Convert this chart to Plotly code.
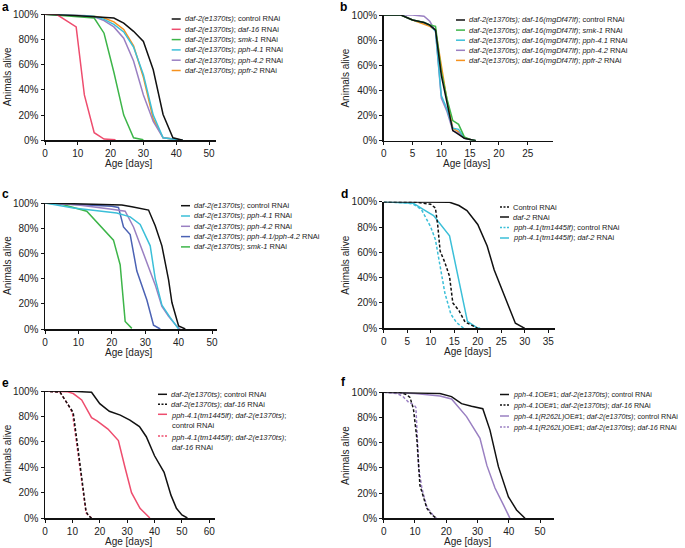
import plotly.graph_objects as go

# ---------------- DATA ----------------
BLACK = "#111111"; RED = "#EE4D6E"; GREEN = "#3DB549"; CYAN = "#3BBFD8"
PURPLE = "#9A80C2"; ORANGE = "#F6921E"; BLUE = "#4B62B4"

# Panel a
a_ctrl_days = [0, 3, 6, 9, 12, 15, 18, 21, 24, 27, 30, 33, 36, 39, 42]
a_ctrl = [100, 100, 99.5, 99, 98.5, 98, 97.5, 97, 93, 86.5, 78.5, 56, 20.5, 2, 0]
a_daf16_days = [0, 3.5, 9.5, 12, 15, 18, 21.5]
a_daf16 = [100, 100, 90, 36, 6, 1, 0.5]
a_smk1_days = [0, 6, 12, 15, 18, 21, 24, 27, 30]
a_smk1 = [100, 99, 98, 97, 85, 54, 20, 2, 0.5]
a_days = [0, 6, 12, 15, 18, 21, 24, 27, 30, 33, 36, 39, 42]
a_pph41 = [100, 99.5, 99, 98.5, 96, 92, 86, 74, 52, 20, 2, 1, 0]
a_pph42 = [100, 99.5, 99, 98, 95, 90, 81, 63, 36, 15, 2, 1, 0]
a_ppfr2 = [100, 99.5, 99, 98.5, 97, 94, 88, 75, 50, 17, 2, 1, 0]

# Panel b
b_days = [0, 3, 5, 7, 8, 9, 10, 11, 12, 13, 14, 15, 16]
b_ctrl = [100, 100, 96, 94, 92, 88, 52, 30, 8, 5, 2, 1, 0]
b_smk1 = [100, 100, 96, 94, 92, 91, 55, 33, 16, 13, 3, 1, 0]
b_pph41 = [100, 100, 96, 94, 92, 87, 36, 25, 10, 9, 2, 1, 0]
b_pph42 = [100, 100, 100, 99, 95, 87, 34, 23, 8, 6, 2, 1, 0]
b_ppfr2 = [100, 100, 96, 93, 91, 88, 60, 32, 10, 7, 2, 1, 0]

# Panel c
c_ctrl_days = [0, 10, 20, 23, 26, 29, 31, 33, 35, 37, 38, 40, 42]
c_ctrl = [100, 99.5, 99, 98.4, 97, 95.5, 94.4, 82, 66, 39, 21, 2.4, 0]
c_pph41_days = [0, 8.5, 21.5, 25.5, 28.5, 31.5, 33, 35, 37.5, 40]
c_pph41 = [100, 96, 92, 89, 83, 66, 40, 19, 9, 0]
c_pph42_days = [0, 10, 20, 24, 26.5, 30.5, 33, 35, 37, 39.5, 40.5]
c_pph42 = [100, 98.5, 95, 93.5, 81, 53, 35, 18, 10, 2, 0]
c_both_days = [0, 10, 20, 22, 23.5, 25.5, 27.5, 30.5, 32.5, 34.5]
c_both = [100, 99, 97.5, 96.5, 81, 75, 46, 23, 3, 0]
c_smk1_days = [0, 5, 8.5, 12.5, 20.5, 22.5, 24, 26]
c_smk1 = [100, 99, 96.5, 93.5, 70.5, 51, 6, 0.5]

# Panel d
d_ctrl_days = [0, 6, 10, 11, 11.5, 12, 13, 14, 14.7, 16, 17.3, 18.4, 20]
d_ctrl = [100, 100, 98, 95, 81, 61, 52, 41, 20, 14, 5, 3, 0]
d_daf2_days = [0, 12, 14, 16, 17.7, 20, 22, 23.5, 25.5, 28, 30]
d_daf2 = [100, 100, 99.5, 97, 93, 82, 65, 46, 27, 4, 0]
d_pph_ctrl_days = [0, 5, 6.3, 8, 10, 11, 12, 13, 14.3, 15.5, 17]
d_pph_ctrl = [100, 99, 98, 94, 80, 70, 49, 28, 11, 4.5, 0]
d_pph_daf2_days = [0, 6.3, 8.4, 10.6, 14, 16.2, 17.8, 19.8, 20.5]
d_pph_daf2 = [100, 98.7, 94, 89, 73, 33, 5.5, 0.5, 0]

# Panel e
e_ctrl_days = [0, 10, 17, 20, 23.5, 27.5, 31, 34.5, 37, 40, 43.5, 46, 48, 50, 52]
e_ctrl = [100, 99.8, 99, 90, 84, 81, 77, 72, 64, 49, 36, 18, 7.6, 2.4, 0]
e_daf16_days = [0, 5.5, 8.5, 10.3, 12.2, 14, 15, 16, 17]
e_daf16 = [100, 99, 89, 83, 52, 23, 5, 1.5, 0]
e_pph_ctrl_days = [0, 8, 10.3, 13.4, 17, 19, 23, 26.8, 29.2, 31.6, 34.7, 38.3]
e_pph_ctrl = [100, 99.5, 98, 93, 79, 76.5, 70, 61, 40, 20, 7.6, 0]
e_pph_daf16_days = [0, 5.5, 8.5, 10, 11.8, 13.6, 15, 17]
e_pph_daf16 = [100, 99, 89, 83, 55, 24, 4, 0]

# Panel f
f_oe_ctrl_days = [0, 10, 18, 21.7, 24.9, 28.1, 31.7, 34, 36.7, 39.9, 42.5, 45.2]
f_oe_ctrl = [100, 99.5, 99, 96.6, 91, 89, 87, 70, 41, 17, 6.6, 0]
f_oe_daf16_days = [0, 5.2, 7.4, 8.4, 9.5, 10.6, 11.6, 12.7, 13.8, 15.4, 17]
f_oe_daf16 = [100, 100, 98, 96, 87, 63.5, 26, 16, 8, 2.6, 0]
f_mut_ctrl_days = [0, 10, 18, 21.7, 26.5, 30.8, 33, 35.6, 38.3, 40.4]
f_mut_ctrl = [100, 99, 97, 94.7, 80.7, 63.5, 42, 24, 10.6, 0]
f_mut_daf16_days = [0, 4.2, 6, 8, 9.7, 10.3, 11.2, 12.2, 13.8, 16.4, 17]
f_mut_daf16 = [100, 99, 97, 92, 90, 88, 40, 24, 9, 0.5, 0]

# Legend labels
a_names = ["<i>daf-2(e1370ts)</i>; control RNAi", "<i>daf-2(e1370ts)</i>; <i>daf-16</i> RNAi",
           "<i>daf-2(e1370ts)</i>; <i>smk-1</i> RNAi", "<i>daf-2(e1370ts)</i>; <i>pph-4.1</i> RNAi",
           "<i>daf-2(e1370ts)</i>; <i>pph-4.2</i> RNAi", "<i>daf-2(e1370ts)</i>; <i>ppfr-2</i> RNAi"]
b_pre = "<i>daf-2(e1370ts); daf-16(mgDf47lf)</i>; "
b_names = [b_pre + "control RNAi", b_pre + "<i>smk-1</i> RNAi", b_pre + "<i>pph-4.1</i> RNAi",
           b_pre + "<i>pph-4.2</i> RNAi", b_pre + "<i>ppfr-2</i> RNAi"]
c_names = ["<i>daf-2(e1370ts)</i>; control RNAi", "<i>daf-2(e1370ts)</i>; <i>pph-4.1</i> RNAi",
           "<i>daf-2(e1370ts)</i>; <i>pph-4.2</i> RNAi", "<i>daf-2(e1370ts)</i>; <i>pph-4.1/pph-4.2</i> RNAi",
           "<i>daf-2(e1370ts)</i>; <i>smk-1</i> RNAi"]
d_names = ["Control RNAi", "<i>daf-2</i> RNAi", "<i>pph-4.1(tm1445lf)</i>; control RNAi",
           "<i>pph-4.1(tm1445lf)</i>; <i>daf-2</i> RNAi"]
e_names = ["<i>daf-2(e1370ts)</i>; control RNAi", "<i>daf-2(e1370ts)</i>; <i>daf-16</i> RNAi",
           "<i>pph-4.1(tm1445lf)</i>; <i>daf-2(e1370ts)</i>;<br>control RNAi",
           "<i>pph-4.1(tm1445lf)</i>; <i>daf-2(e1370ts)</i>;<br><i>daf-16</i> RNAi"]
f_names = ["<i>pph-4.1</i>OE#1; <i>daf-2(e1370ts)</i>; control RNAi",
           "<i>pph-4.1</i>OE#1; <i>daf-2(e1370ts)</i>; <i>daf-16</i> RNAi",
           "<i>pph-4.1(R262L)</i>OE#1; <i>daf-2(e1370ts)</i>; control RNAi",
           "<i>pph-4.1(R262L)</i>OE#1; <i>daf-2(e1370ts)</i>; <i>daf-16</i> RNAi"]

y_ticks = [0, 20, 40, 60, 80, 100]

# ---------------- LAYOUT ----------------
W, H = 685, 548
FONT = "Liberation Sans, Arial, sans-serif"
def fx(p): return p / W
def fy(p): return 1 - p / H

# geometry in pixels: x0 (day 0), px per day, xmax, y of 100%, y of 0%, dtick
PANELS = {
    "a": dict(ax="", x0=45, xs=3.28, xmax=52, ytop=14.3, ybot=140.3, dtick=10, lab=(5, 7),
              leg_x=171.7, leg_rows=[19 + 10.3 * i for i in range(6)], fs=7.5),
    "b": dict(ax="2", x0=383.7, xs=5.76, xmax=29.4, ytop=15, ybot=140.7, dtick=5, lab=(343, 7),
              leg_x=456, leg_rows=[20 + 10.1 * i for i in range(5)], fs=7.5),
    "c": dict(ax="3", x0=45, xs=3.34, xmax=51.4, ytop=203, ybot=329, dtick=10, lab=(5, 194),
              leg_x=181, leg_rows=[205.7 + 10.3 * i for i in range(5)], fs=7.5),
    "d": dict(ax="4", x0=383.7, xs=4.703, xmax=36.4, ytop=201.7, ybot=328.3, dtick=5, lab=(344, 194),
              leg_x=500, leg_rows=[207, 217, 227.5, 238], fs=7.5),
    "e": dict(ax="5", x0=45, xs=2.738, xmax=62.1, ytop=391, ybot=518, dtick=10, lab=(5, 383),
              leg_x=158, leg_rows=[394.3, 404.3, 414.3, 436], fs=7.5),
    "f": dict(ax="6", x0=383.7, xs=3.126, xmax=54.6, ytop=392.3, ybot=518.3, dtick=10, lab=(343, 382),
              leg_x=500, leg_rows=[394.5, 405, 416, 427], fs=7.2),
}

SERIES = {
    "a": [(a_ctrl_days, a_ctrl, BLACK, "solid"), (a_daf16_days, a_daf16, RED, "solid"),
          (a_smk1_days, a_smk1, GREEN, "solid"), (a_days, a_pph41, CYAN, "solid"),
          (a_days, a_pph42, PURPLE, "solid"), (a_days, a_ppfr2, ORANGE, "solid")],
    "b": [(b_days, b_ctrl, BLACK, "solid"), (b_days, b_smk1, GREEN, "solid"),
          (b_days, b_pph41, CYAN, "solid"), (b_days, b_pph42, PURPLE, "solid"),
          (b_days, b_ppfr2, ORANGE, "solid")],
    "c": [(c_ctrl_days, c_ctrl, BLACK, "solid"), (c_pph41_days, c_pph41, CYAN, "solid"),
          (c_pph42_days, c_pph42, PURPLE, "solid"), (c_both_days, c_both, BLUE, "solid"),
          (c_smk1_days, c_smk1, GREEN, "solid")],
    "d": [(d_ctrl_days, d_ctrl, BLACK, "3px,2px"), (d_daf2_days, d_daf2, BLACK, "solid"),
          (d_pph_ctrl_days, d_pph_ctrl, CYAN, "3px,2px"), (d_pph_daf2_days, d_pph_daf2, CYAN, "solid")],
    "e": [(e_ctrl_days, e_ctrl, BLACK, "solid"), (e_daf16_days, e_daf16, BLACK, "3px,2px"),
          (e_pph_ctrl_days, e_pph_ctrl, RED, "solid"), (e_pph_daf16_days, e_pph_daf16, RED, "3px,2px")],
    "f": [(f_oe_ctrl_days, f_oe_ctrl, BLACK, "solid"), (f_oe_daf16_days, f_oe_daf16, BLACK, "3px,2px"),
          (f_mut_ctrl_days, f_mut_ctrl, PURPLE, "solid"), (f_mut_daf16_days, f_mut_daf16, PURPLE, "3px,2px")],
}
NAMES = {"a": a_names, "b": b_names, "c": c_names, "d": d_names, "e": e_names, "f": f_names}

fig = go.Figure()
annotations = []
shapes = []
layout = dict(width=W, height=H, margin=dict(l=0, r=0, t=0, b=0, autoexpand=False), showlegend=False,
              paper_bgcolor="white", plot_bgcolor="white", font=dict(family=FONT, color="#222"),
              template="none")

for key, P in PANELS.items():
    ax = P["ax"]
    for (xs, ys, col, dash) in SERIES[key][::-1]:
        fig.add_trace(go.Scatter(x=xs, y=ys, mode="lines", xaxis="x" + ax, yaxis="y" + ax,
                                 line=dict(color=col, width=1.5, dash=dash), cliponaxis=False,
                                 hoverinfo="skip"))
    xd = [fx(P["x0"]), fx(P["x0"] + P["xs"] * P["xmax"])]
    yd = [fy(P["ybot"]), fy(P["ytop"])]
    layout["xaxis" + ax] = dict(domain=xd, range=[0, P["xmax"]], anchor="y" + ax, dtick=P["dtick"],
                                tick0=0, showgrid=False, zeroline=False, showline=True, automargin=False,
                                linecolor="#111", linewidth=1.5, ticks="outside", ticklen=3,
                                tickwidth=1, tickcolor="#111", tickfont=dict(size=10, family=FONT, color="#222"))
    layout["yaxis" + ax] = dict(domain=yd, range=[0, 100], anchor="x" + ax, tickvals=y_ticks,
                                ticktext=[f"{v}%" for v in y_ticks], showgrid=False, zeroline=False,
                                showline=True, linecolor="#111", linewidth=1.5, ticks="outside",
                                automargin=False, ticklen=3, tickwidth=1, tickcolor="#111",
                                tickfont=dict(size=10, family=FONT, color="#222"))
    # axis titles
    xmid = P["x0"] + P["xs"] * P["xmax"] / 2
    annotations.append(dict(text="Age [days]", xref="paper", yref="paper", x=fx(xmid - 2),
                            y=fy(P["ybot"] + 23), xanchor="center", yanchor="middle", showarrow=False,
                            font=dict(size=10, family=FONT, color="#222")))
    annotations.append(dict(text="Animals alive", xref="paper", yref="paper", x=fx(P["x0"] - 38),
                            y=fy((P["ytop"] + P["ybot"]) / 2), xanchor="center", yanchor="middle",
                            textangle=-90, showarrow=False, font=dict(size=10, family=FONT, color="#222")))
    # panel letter
    annotations.append(dict(text=f"<b>{key}</b>", xref="paper", yref="paper", x=fx(P["lab"][0]),
                            y=fy(P["lab"][1]), xanchor="center", yanchor="middle", showarrow=False,
                            font=dict(size=12, family=FONT, color="#000")))
    # legend
    lx = P["leg_x"]
    for (xs, ys, col, dash), name, row in zip(SERIES[key], NAMES[key], P["leg_rows"]):
        sdash = "solid" if dash == "solid" else "2px,1.5px"
        shapes.append(dict(type="line", xref="paper", yref="paper", x0=fx(lx), x1=fx(lx + 9),
                           y0=fy(row), y1=fy(row), line=dict(color=col, width=1.5, dash=sdash)))
        two = "<br>" in name
        annotations.append(dict(text=name, xref="paper", yref="paper", x=fx(lx + 11),
                                y=fy(row - 5) if two else fy(row), xanchor="left",
                                yanchor="top" if two else "middle", align="left", showarrow=False,
                                font=dict(size=P["fs"], family=FONT, color="#222")))

layout["annotations"] = annotations
layout["shapes"] = shapes
fig.update_layout(**layout)
fig.write_html("out.html", config={"displayModeBar": False, "staticPlot": True},
               post_script="document.body.style.margin='0';document.body.style.overflow='hidden';")
